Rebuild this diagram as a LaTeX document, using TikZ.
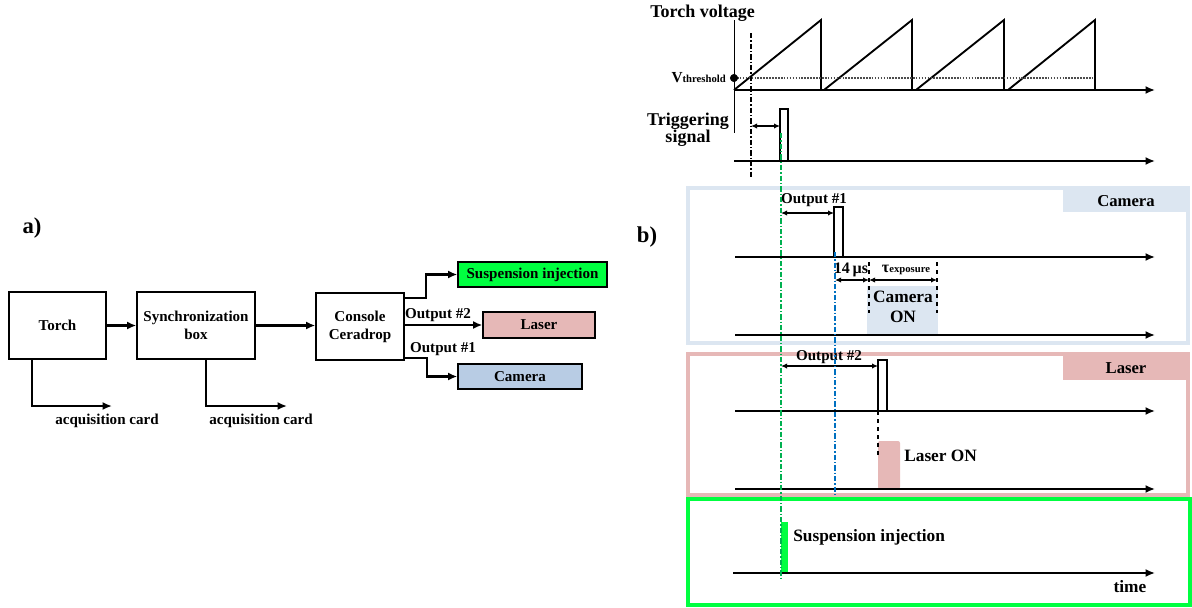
\documentclass[tikz,border=0pt]{standalone}
\usepackage{fontspec}
\setmainfont{Liberation Serif}
\usetikzlibrary{arrows.meta,positioning}

\definecolor{laserpink}{HTML}{E6B8B7}
\definecolor{camblue}{HTML}{B8CCE4}
\definecolor{campanel}{HTML}{DCE6F1}
\definecolor{suspgreen}{HTML}{00FF40}
\definecolor{trigline}{HTML}{00B050}
\definecolor{camline}{HTML}{0070C0}

\newcommand{\blkfont}{\fontsize{11.3}{13.5}\selectfont\bfseries}
\newcommand{\topfont}{\fontsize{13.5}{13}\selectfont\bfseries}
\newcommand{\panelfont}{\fontsize{13}{14.5}\selectfont\bfseries}
\newcommand{\tinybf}[1]{{\fontsize{8}{9}\selectfont\bfseries #1}}

\tikzset{
  blk/.style={draw, line width=1pt, fill=white, align=center, font=\blkfont,
    minimum height=50.25pt, inner sep=0pt},
  outbox/.style={draw, line width=1pt, font=\blkfont, minimum height=18.75pt, inner sep=0pt},
  lbl/.style={font=\blkfont, inner sep=0pt},
  toplbl/.style={font=\topfont, inner sep=0pt},
  panellbl/.style={font=\panelfont, inner sep=0pt},
  arr/.style={-{Latex[length=7pt,width=6pt]}, line width=1.6pt},
  timeaxis/.style={-{Latex[length=7pt,width=6pt]}, line width=1.8pt},
  span/.style={{Latex[length=4.5pt,width=4pt]}-{Latex[length=4.5pt,width=4pt]}, line width=1.1pt},
  pulse/.style={line width=1pt},
  marker/.style={line width=1.2pt, dash pattern=on 4pt off 1.5pt on 1pt off 1.5pt},
  panel/.style={line width=2.4pt},
}

\begin{document}
\begin{tikzpicture}[x=0.75pt,y=-0.75pt]
  \useasboundingbox (0,0) rectangle (1192,607);

  % ---------- a) block diagram ----------
  \node[font=\fontsize{17}{18}\selectfont\bfseries] (parta) at (32,228) {a)};

  \node[blk, minimum width=72.75pt] (torch) at (57.5,325.5) {Torch};
  \node[blk, minimum width=88.5pt] (sync) at (196,325.5) {Synchronization\\box};
  \node[blk, minimum width=66pt] (console) at (360,326.5) {Console\\Ceradrop};

  \node[outbox, fill=suspgreen, minimum width=111.75pt] (susp) at (532.5,274.5) {Suspension injection};
  \node[outbox, fill=laserpink, minimum width=84pt, minimum height=19.5pt] (laser) at (539,325) {Laser};
  \node[outbox, fill=camblue, minimum width=93pt] (camera) at (520,376.5) {Camera};

  % chain
  \draw[arr] (torch.east) -- (torch.east -| sync.west);
  \draw[arr] (sync.east) -- (sync.east -| console.west);

  % console outputs
  \draw[arr] ([yshift=-4.5pt]console.north east) -- ++(21,0) |- (susp.west);
  \draw[arr] (console.east |- laser.west) -- (laser.west);
  \draw[arr] ([yshift=2.25pt]console.south east) -- ++(22,0) |- (camera.west);
  \node[lbl] (out2lbl) at (438,315) {Output \#2};
  \node[lbl] (out1lbl) at (443,349) {Output \#1};

  % acquisition
  \coordinate (acq1) at (112,406);
  \coordinate (acq2) at (287,406);
  \draw[arr] ([xshift=18pt]torch.south west) |- (acq1);
  \draw[arr] ([xshift=52.5pt]sync.south west) |- (acq2);
  \node[lbl] (acqlbl1) at (107,421) {acquisition card};
  \node[lbl] (acqlbl2) at (261,421) {acquisition card};

  % ---------- b) timing diagram ----------
  \node[font=\fontsize{17}{18}\selectfont\bfseries] (partb) at (647,237) {b)};

  % panels
  \draw[panel, draw=campanel] (688,188) rectangle (1188,343);
  \fill[campanel] (1063,188) rectangle (1188,212);
  \node[panellbl, font=\fontsize{12.5}{14}\selectfont\bfseries] (camtab) at (1126,201) {Camera};

  \draw[panel, draw=laserpink] (688,354) rectangle (1188,495);
  \fill[laserpink] (1063,354) rectangle (1188,380);
  \node[panellbl, font=\fontsize{12.5}{14}\selectfont\bfseries] (lasertab) at (1126,368) {Laser};

  \draw[panel, draw=suspgreen] (688,499) rectangle (1190,605);

  % torch voltage
  \node[toplbl, anchor=base west] (tvlbl) at (650,17) {Torch voltage};
  \draw[line width=0.7pt] (734,20) -- (734,133);
  \draw[timeaxis] (734,90) -- (1155,90);
  \foreach \s/\p in {734/821, 824/912, 916/1004, 1008/1095}
    \draw[line width=1.4pt] (\s,90) -- (\p,20) -- (\p,90);
  \draw[line width=1.2pt, densely dotted, black!70] (734,78) -- (1093,78);
  \filldraw[black] (734,78) circle (2.8pt);
  \node[anchor=base east, inner sep=0pt, font=\fontsize{11.5}{12}\selectfont\bfseries] (vth) at (726,82) {V\tinybf{threshold}};

  % triggering signal
  \node[toplbl, align=center] (triglbl) at (688,130) {Triggering\\signal};
  \draw[timeaxis] (734,161) -- (1155,161);
  \draw[pulse] (780,161) -- (780,109) -- (788,109) -- (788,161);
  \draw[marker, black] (751,33) -- (751,177);
  \draw[span] (751,126) -- (780,126);

  % camera
  \fill[campanel] (867,286) rectangle (938,335);
  \draw[timeaxis] (735,257) -- (1155,257);
  \draw[timeaxis] (735,335) -- (1155,335);
  \draw[pulse] (834,257) -- (834,207) -- (843,207) -- (843,257);
  \draw[span] (781,213) -- (834,213);
  \node[lbl] (camout) at (814,200) {Output \#1};
  \draw[line width=0.8pt, dashed] (869,262) -- (869,313);
  \draw[line width=0.8pt, dashed] (937,262) -- (937,313);
  \draw[span] (835,280) -- (869,280);
  \draw[span] (869,280) -- (937,280);
  \node[lbl, font=\fontsize{12}{13}\selectfont\bfseries] (delay) at (851,270) {14\,µs};
  \node[lbl, font=\fontsize{12}{13}\selectfont\bfseries] (expo) at (906,270) {τ\tinybf{exposure}};
  \node[panellbl, align=center] (camon) at (903,307) {Camera\\ON};

  % laser
  \fill[laserpink, rounded corners=1.5pt] (878,489) -- (878,441) -- (900,441) -- (900,489) -- cycle;
  \draw[timeaxis] (735,411) -- (1155,411);
  \draw[timeaxis] (735,489) -- (1155,489);
  \draw[pulse] (878,411) -- (878,360) -- (887,360) -- (887,411);
  \draw[span] (781,366) -- (878,366);
  \node[lbl] (lasout) at (829,357) {Output \#2};
  \draw[line width=0.8pt, dashed] (878,411) -- (878,455);
  \node[panellbl, anchor=west] (laseron) at (904,456) {Laser ON};

  % suspension injection
  \fill[suspgreen] (781,522) rectangle (788,573);
  \draw[timeaxis] (733,573) -- (1155,573);
  \node[panellbl, anchor=west] (suspon) at (793,537) {Suspension injection};
  \node[panellbl] (timelbl) at (1130,587) {time};

  % markers
  \draw[marker, trigline] (781,133) -- (781,578);
  \draw[marker, camline] (835,252) -- (835,495);
\end{tikzpicture}
\end{document}
